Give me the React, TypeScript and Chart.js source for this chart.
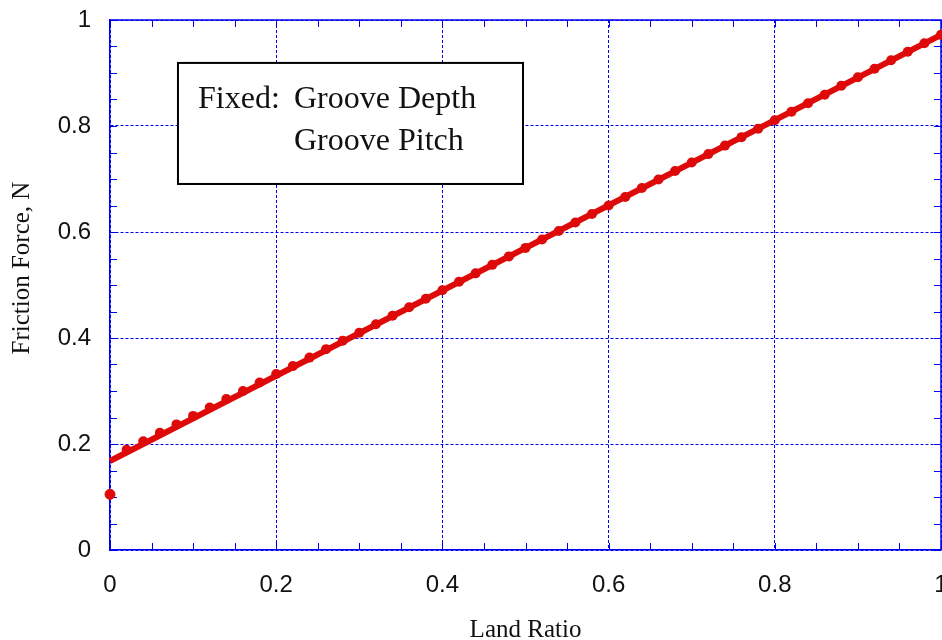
import React, { useEffect, useRef } from 'react';
import { Chart, registerables } from 'chart.js';

Chart.register(...registerables);

// ---- data ----
const landRatio = [
  0.02, 0.04, 0.06, 0.08, 0.10, 0.12, 0.14, 0.16, 0.18, 0.20,
  0.22, 0.24, 0.26, 0.28, 0.30, 0.32, 0.34, 0.36, 0.38, 0.40,
  0.42, 0.44, 0.46, 0.48, 0.50, 0.52, 0.54, 0.56, 0.58, 0.60,
  0.62, 0.64, 0.66, 0.68, 0.70, 0.72, 0.74, 0.76, 0.78, 0.80,
  0.82, 0.84, 0.86, 0.88, 0.90, 0.92, 0.94, 0.96, 0.98, 1.00,
];
const frictionForce = [
  0.189, 0.205, 0.221, 0.237, 0.253, 0.269, 0.285, 0.300, 0.316, 0.332,
  0.347, 0.363, 0.379, 0.395, 0.410, 0.426, 0.442, 0.458, 0.474, 0.490,
  0.506, 0.522, 0.538, 0.554, 0.570, 0.586, 0.602, 0.618, 0.634, 0.650,
  0.666, 0.683, 0.699, 0.715, 0.731, 0.747, 0.763, 0.779, 0.795, 0.811,
  0.827, 0.843, 0.859, 0.876, 0.892, 0.908, 0.924, 0.940, 0.956, 0.972,
];
const fitLandRatio = [0, 1];
const fitFriction = [0.168, 0.972];
const zeroLandRatio = [0];
const zeroFriction = [0.105];

const xTitle = 'Land Ratio';
const yTitle = 'Friction Force, N';
const noteLabel = 'Fixed:';
const noteItems = ['Groove Depth', 'Groove Pitch'];

const RED = '#de0a0a';
const BLUE = '#0000f0';
const SERIF = '"Liberation Serif", "Times New Roman", serif';
const SANS = '"Liberation Sans", Arial, sans-serif';

const toPoints = (xs: number[], ys: number[]) => xs.map((x, i) => ({ x, y: ys[i] }));
const fmt = (v: any) => String(parseFloat(Number(v).toFixed(2)));

const framePlugin = {
  id: 'frameTicks',
  beforeDatasetsDraw(chart: any) {
    const { ctx, chartArea: a, scales } = chart;
    ctx.save();
    ctx.strokeStyle = BLUE;
    ctx.lineWidth = 1;
    const len = 7;
    for (let i = 0; i <= 20; i++) {
      const v = i * 0.05;
      const px = Math.round(scales.x.getPixelForValue(v)) + 0.5;
      ctx.beginPath();
      ctx.moveTo(px, a.bottom);
      ctx.lineTo(px, a.bottom - len);
      ctx.moveTo(px, a.top);
      ctx.lineTo(px, a.top + len);
      ctx.stroke();
      const py = Math.round(scales.y.getPixelForValue(v)) + 0.5;
      ctx.beginPath();
      ctx.moveTo(a.left, py);
      ctx.lineTo(a.left + len, py);
      ctx.moveTo(a.right, py);
      ctx.lineTo(a.right - len, py);
      ctx.stroke();
    }
    ctx.lineWidth = 1.5;
    ctx.beginPath();
    ctx.moveTo(a.left, a.top);
    ctx.lineTo(a.right, a.top);
    ctx.lineTo(a.right, a.bottom);
    ctx.stroke();
    ctx.restore();
  },
  afterDraw(chart: any) {
    const { ctx, chartArea: a, scales } = chart;
    ctx.save();
    // y axis title
    const cy = a.top + (a.bottom - a.top) * 0.468;
    ctx.translate(22, cy);
    ctx.rotate(-Math.PI / 2);
    ctx.font = `25px ${SERIF}`;
    ctx.fillStyle = '#111';
    ctx.textAlign = 'center';
    ctx.textBaseline = 'middle';
    ctx.fillText(yTitle, 0, 0);
    ctx.restore();

    // note box
    ctx.save();
    const x0 = scales.x.getPixelForValue(0.0818);
    const x1 = scales.x.getPixelForValue(0.497);
    const y0 = scales.y.getPixelForValue(0.919);
    const y1 = scales.y.getPixelForValue(0.6906);
    ctx.fillStyle = '#ffffff';
    ctx.fillRect(x0, y0, x1 - x0, y1 - y0);
    ctx.strokeStyle = '#000';
    ctx.lineWidth = 2;
    ctx.strokeRect(x0, y0, x1 - x0, y1 - y0);
    ctx.font = `32px ${SERIF}`;
    ctx.fillStyle = '#111';
    ctx.textAlign = 'left';
    ctx.textBaseline = 'alphabetic';
    const lx = scales.x.getPixelForValue(0.1059);
    const ix = scales.x.getPixelForValue(0.2214);
    const b1 = scales.y.getPixelForValue(0.834);
    const b2 = scales.y.getPixelForValue(0.7547);
    ctx.fillText(noteLabel, lx, b1);
    ctx.fillText(noteItems[0], ix, b1);
    ctx.fillText(noteItems[1], ix, b2);
    ctx.restore();
  },
};

export default function App() {
  const ref = useRef<HTMLCanvasElement | null>(null);
  useEffect(() => {
    if (!ref.current) return;
    const chart = new Chart(ref.current, {
      type: 'scatter',
      data: {
        datasets: [
          {
            data: toPoints(landRatio, frictionForce),
            showLine: false,
            pointRadius: 5,
            pointBackgroundColor: RED,
            pointBorderColor: RED,
            borderWidth: 0,
            clip: false,
          } as any,
          {
            data: toPoints(fitLandRatio, fitFriction),
            showLine: true,
            borderColor: RED,
            borderWidth: 6,
            pointRadius: 0,
            clip: false,
          } as any,
          {
            data: toPoints(zeroLandRatio, zeroFriction),
            showLine: false,
            pointRadius: 5,
            pointBackgroundColor: RED,
            pointBorderColor: RED,
            clip: false,
          } as any,
        ],
      },
      options: {
        responsive: false,
        animation: false,
        maintainAspectRatio: false,
        layout: { autoPadding: false, padding: { left: 0, right: 1, top: 20, bottom: 0 } },
        plugins: { legend: { display: false }, tooltip: { enabled: false } },
        scales: {
          x: {
            type: 'linear',
            min: 0,
            max: 1,
            afterFit: (s: any) => {
              s.height = 90;
              s.paddingLeft = 0;
              s.paddingRight = 0;
            },
            ticks: {
              stepSize: 0.2,
              padding: 21,
              color: '#111',
              font: { family: SANS, size: 24 },
              maxRotation: 0,
              callback: fmt,
            },
            grid: { color: BLUE, lineWidth: 1, drawTicks: false },
            border: { color: BLUE, width: 1.5, dash: [3, 2] },
            title: {
              display: true,
              text: xTitle,
              color: '#111',
              font: { family: SERIF, size: 25, lineHeight: 0.8 },
              padding: { top: 0, bottom: 0 },
            },
          },
          y: {
            type: 'linear',
            min: 0,
            max: 1,
            afterFit: (s: any) => {
              s.width = 110;
              s.paddingTop = 0;
              s.paddingBottom = 0;
            },
            ticks: {
              stepSize: 0.2,
              padding: 19,
              color: '#111',
              font: { family: SANS, size: 24 },
              callback: fmt,
            },
            grid: { color: BLUE, lineWidth: 1, drawTicks: false },
            border: { color: BLUE, width: 1.5, dash: [3, 2] },
          },
        },
      },
      plugins: [framePlugin],
    } as any);
    return () => chart.destroy();
  }, []);
  return (
    <div style={{ position: 'fixed', left: 0, top: 0, width: 942, height: 640, background: '#fff' }}>
      <canvas ref={ref} width={942} height={640} style={{ display: 'block' }} />
    </div>
  );
}
